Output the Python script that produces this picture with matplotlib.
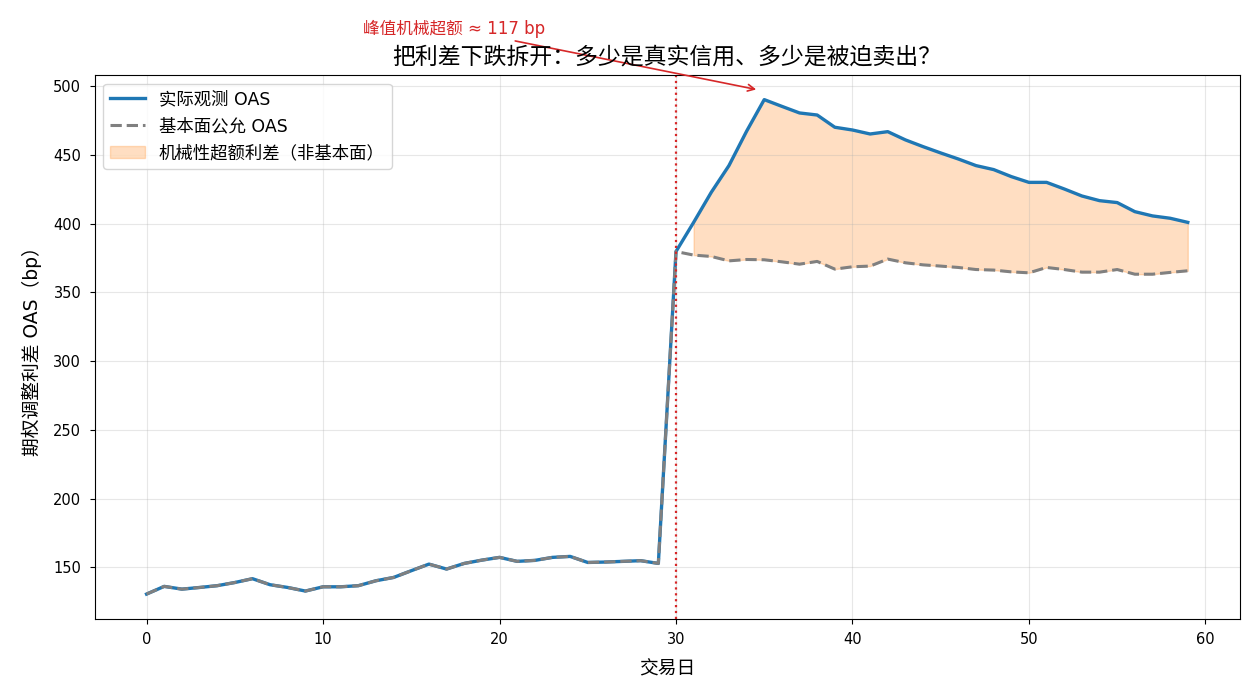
import numpy as np
import matplotlib
matplotlib.use("Agg")
import matplotlib.pyplot as plt

plt.rcParams['font.family'] = ['DejaVu Sans', 'Noto Sans CJK SC']
plt.rcParams['axes.unicode_minus'] = False

# 交易日 0..59
days = list(range(60))

observed_oas = [
    130.6, 136.2, 134.2, 135.4, 136.7, 139.0, 141.8, 137.4, 135.4, 132.8,
    135.9, 135.9, 136.7, 140.3, 142.7, 147.6, 152.4, 148.8, 152.9, 155.3,
    157.3, 154.4, 155.1, 157.3, 158.0, 153.6, 153.9, 154.4, 154.9, 152.9,
    379.8, 401.0, 422.9, 442.3, 467.3, 490.3, 485.4, 480.6, 479.1, 470.2,
    468.2, 465.3, 467.0, 461.0, 456.1, 451.5, 447.1, 442.3, 439.4, 434.3,
    430.1, 430.1, 425.3, 420.2, 416.8, 415.4, 408.8, 405.7, 404.0, 401.0,
]

fundamental_oas = observed_oas[:30] + [
    379.8, 377.2, 376.2, 373.0, 374.0, 373.8, 372.3, 370.6, 372.6, 367.0,
    368.7, 369.2, 374.3, 371.6, 370.1, 369.2, 368.2, 366.7, 366.3, 365.0,
    364.3, 368.2, 366.7, 364.8, 364.8, 366.7, 363.3, 363.3, 364.6, 365.8,
]

shock_day = 30
peak_label = "峰值机械超额 ≈ 117 bp"

x = np.array(days)
obs = np.array(observed_oas)
fund = np.array(fundamental_oas)

fig, ax = plt.subplots(figsize=(12.6, 7), dpi=100)
fig.subplots_adjust(left=0.075, right=0.984, top=0.893, bottom=0.116)

ax.plot(x, obs, color='tab:blue', lw=2.4, label='实际观测 OAS')
ax.plot(x, fund, color='gray', lw=2.2, ls='--', label='基本面公允 OAS')
mask = x > shock_day
ax.fill_between(x[mask], fund[mask], obs[mask], color='tab:orange', alpha=0.25,
                label='机械性超额利差（非基本面）')
ax.axvline(shock_day, color='tab:red', ls=':', lw=1.6)

peak_i = int(np.argmax(obs - fund))
ax.annotate(peak_label, xy=(x[peak_i] - 0.3, obs[peak_i] + 7),
            xytext=(17.4, 542), ha='center', va='center', color='tab:red',
            fontsize=12, annotation_clip=False,
            arrowprops=dict(arrowstyle='->', color='tab:red', lw=1.2))

ax.set_title('把利差下跌拆开：多少是真实信用、多少是被迫卖出？', fontsize=16.5, pad=8)
ax.set_xlabel('交易日', fontsize=13.5, labelpad=9)
ax.set_ylabel('期权调整利差 OAS（bp）', fontsize=13.5, labelpad=8)
ax.tick_params(labelsize=10.5, pad=6)
ax.grid(True, alpha=0.3)
ax.legend(loc='upper left', fontsize=12.5)

fig.savefig('out.png')
